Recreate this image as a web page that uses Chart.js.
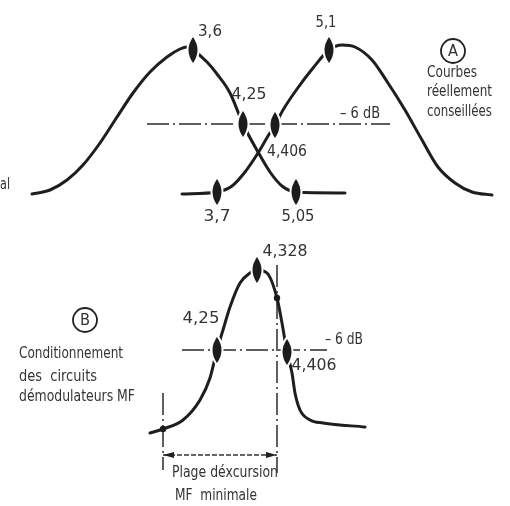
<!DOCTYPE html>
<html lang="fr">
<head>
<meta charset="utf-8">
<title>Courbes de réponse MF</title>
<script src="https://cdn.jsdelivr.net/npm/chart.js@4.4.1/dist/chart.umd.min.js"></script>
<style>
  html, body { margin: 0; padding: 0; background: #fff; }
  #wrap { width: 510px; height: 506px; }
</style>
</head>
<body>
<div id="wrap"><canvas id="courbes" width="510" height="506"></canvas></div>
<script>
// Planche schématique : abscisse = position sur le croquis, ordonnée = niveau (0 en haut)

// (A) courbe de gauche, pic à 3,6
const a1X = [32, 50, 67, 83, 100, 117, 133, 150, 167, 180, 187, 193, 207, 217, 230, 243, 258, 270, 282, 296, 345];
const a1Y = [194, 190, 180, 165, 143, 117, 93, 72, 57, 49, 47, 50, 62, 74, 93, 124, 152, 172, 186, 192, 193];

// (A) courbe de droite, pic à 5,1
const a2X = [182, 217, 232, 245, 258, 268, 275, 283, 297, 313, 329, 342, 355, 372, 388, 405, 422, 438, 455, 472, 492];
const a2Y = [194, 192, 186, 172, 153, 136, 125, 110, 89, 68, 50, 45, 47, 60, 83, 110, 140, 167, 183, 192, 195];

// (B) courbe des démodulateurs
const bX = [150, 163, 183, 200, 210, 217, 223, 230, 240, 250, 257, 267, 277, 282, 287, 292, 295, 300, 310, 323, 365];
const bY = [433, 429, 420, 400, 378, 350, 330, 307, 283, 273, 270, 273, 298, 323, 352, 373, 393, 410, 420, 423, 427];

// repères (losanges) et fréquences en MHz
const markX = [193, 243, 296, 217, 275, 329, 217, 257, 287];
const markY = [50, 124, 192, 192, 125, 50, 350, 270, 352];
const markF = [3.6, 4.25, 5.05, 3.7, 4.406, 5.1, 4.25, 4.328, 4.406];

// points ronds sur la courbe B
const dotX = [163, 277];
const dotY = [429, 298];

// niveaux -6 dB
const sixDbA = { x: [147, 390], y: [124, 124] };
const sixDbB = { x: [182, 327], y: [350, 350] };

// limites de la plage d'excursion
const plageX = [163, 277];
const plageY = 455;
const limGauche = [393, 470];
const limDroite = [265, 473];

// repères cerclés
const cercleX = [453, 85];
const cercleY = [51, 320];
const cercleL = ['A', 'B'];

const pts = (xs, ys) => xs.map((x, i) => ({ x, y: ys[i] }));
const fr = v => String(v).replace('.', ',');

// losange allongé avec un liseré blanc
function losange() {
  const c = document.createElement('canvas');
  c.width = 16; c.height = 32;
  const g = c.getContext('2d');
  g.beginPath();
  g.moveTo(8, 3);
  g.quadraticCurveTo(17, 16, 8, 29);
  g.quadraticCurveTo(-1, 16, 8, 3);
  g.closePath();
  g.lineWidth = 4;
  g.strokeStyle = '#fff';
  g.stroke();
  g.fillStyle = '#1c1c1c';
  g.fill();
  return c;
}

// pointe de flèche, la pointe au centre de l'image
function fleche() {
  const c = document.createElement('canvas');
  c.width = 26; c.height = 8;
  const g = c.getContext('2d');
  g.beginPath();
  g.moveTo(13, 4);
  g.lineTo(2, 1);
  g.lineTo(2, 7);
  g.closePath();
  g.fillStyle = '#222';
  g.fill();
  return c;
}

const trait = '#1e1e1e';
const courbe = (xs, ys) => ({
  data: pts(xs, ys),
  borderColor: trait,
  borderWidth: 3,
  cubicInterpolationMode: 'monotone',
  pointRadius: 0,
  borderCapStyle: 'round',
  fill: false
});
const mixte = (xs, ys, w) => ({
  data: pts(xs, ys),
  borderColor: '#2a2a2a',
  borderWidth: w || 1.5,
  borderDash: [22, 4, 2, 4],
  pointRadius: 0,
  tension: 0,
  fill: false
});

const datasets = [
  {
    data: pts(cercleX, cercleY),
    showLine: false,
    pointStyle: 'circle',
    pointRadius: 12,
    pointBorderWidth: 1.8,
    pointBorderColor: '#222',
    pointBackgroundColor: '#fff'
  },
  {
    data: pts(markX, markY),
    showLine: false,
    pointStyle: losange(),
    pointRadius: 5
  },
  {
    data: pts(dotX, dotY),
    showLine: false,
    pointStyle: 'circle',
    pointRadius: 3.2,
    pointBorderWidth: 0,
    pointBackgroundColor: '#1c1c1c'
  },
  {
    data: pts(plageX, [plageY, plageY]),
    borderColor: '#333',
    borderWidth: 1.3,
    borderDash: [5, 2],
    pointStyle: fleche(),
    pointRadius: 5,
    pointRotation: [180, 0],
    tension: 0
  },
  courbe(a1X, a1Y),
  courbe(a2X, a2Y),
  courbe(bX, bY),
  mixte(sixDbA.x, sixDbA.y),
  mixte(sixDbB.x, sixDbB.y),
  mixte([plageX[0], plageX[0]], limGauche),
  mixte([plageX[1], plageX[1]], limDroite)
];

// étiquettes des repères : décalage du centre du texte, largeur
const etiq = [
  [17, -18, 24], [6, -29, 35], [2, 25, 33], [0, 25, 27], [12, 27, 40],
  [-3, -27, 21], [-16, -31, 37], [28, -18, 45], [27, 14, 45]
];

// textes libres : texte, x, y, largeur, taille
const notes = [
  ['– 6 dB', 360, 114, 40, 16],
  ['Courbes', 452, 73, 50, 16],
  ['réellement', 459.5, 92, 65, 16],
  ['conseillées', 459.5, 112, 65, 16],
  ['al', 5, 185, 10, 16],
  ['– 6 dB', 344, 340, 38, 16],
  ['Conditionnement', 71, 354, 104, 16],
  ['des  circuits', 58, 377, 78, 16],
  ['démodulateurs MF', 77, 397, 116, 16],
  ['Plage déxcursion', 225, 473, 106, 15],
  ['MF  minimale', 216, 496, 82, 15]
];

const textes = {
  id: 'textes',
  afterDraw(chart) {
    const { ctx, scales: { x, y } } = chart;
    const ecrire = (t, px, py, w, size) => {
      ctx.save();
      ctx.font = size + 'px "DejaVu Sans"';
      const nat = ctx.measureText(t).width;
      ctx.translate(px, py);
      ctx.scale(w / nat, 1);
      ctx.textAlign = 'center';
      ctx.textBaseline = 'middle';
      ctx.fillStyle = '#333';
      ctx.fillText(t, 0, 0);
      ctx.restore();
    };
    markF.forEach((f, i) => {
      const [dx, dy, w] = etiq[i];
      ecrire(fr(f), x.getPixelForValue(markX[i]) + dx, y.getPixelForValue(markY[i]) + dy, w, 16);
    });
    notes.forEach(([t, nx, ny, w, s]) => ecrire(t, x.getPixelForValue(nx), y.getPixelForValue(ny), w, s));
    cercleL.forEach((l, i) => {
      ecrire(l, x.getPixelForValue(cercleX[i]), y.getPixelForValue(cercleY[i]) + 1, 10, 15);
    });
  }
};

new Chart(document.getElementById('courbes'), {
  type: 'line',
  data: { datasets },
  options: {
    responsive: false,
    animation: false,
    devicePixelRatio: 1,
    layout: { padding: 0, autoPadding: false },
    clip: false,
    plugins: { legend: { display: false }, tooltip: { enabled: false } },
    scales: {
      x: { type: 'linear', display: false, min: 0, max: 510 },
      y: { type: 'linear', display: false, min: 0, max: 506, reverse: true }
    }
  },
  plugins: [textes]
});
</script>
</body>
</html>
